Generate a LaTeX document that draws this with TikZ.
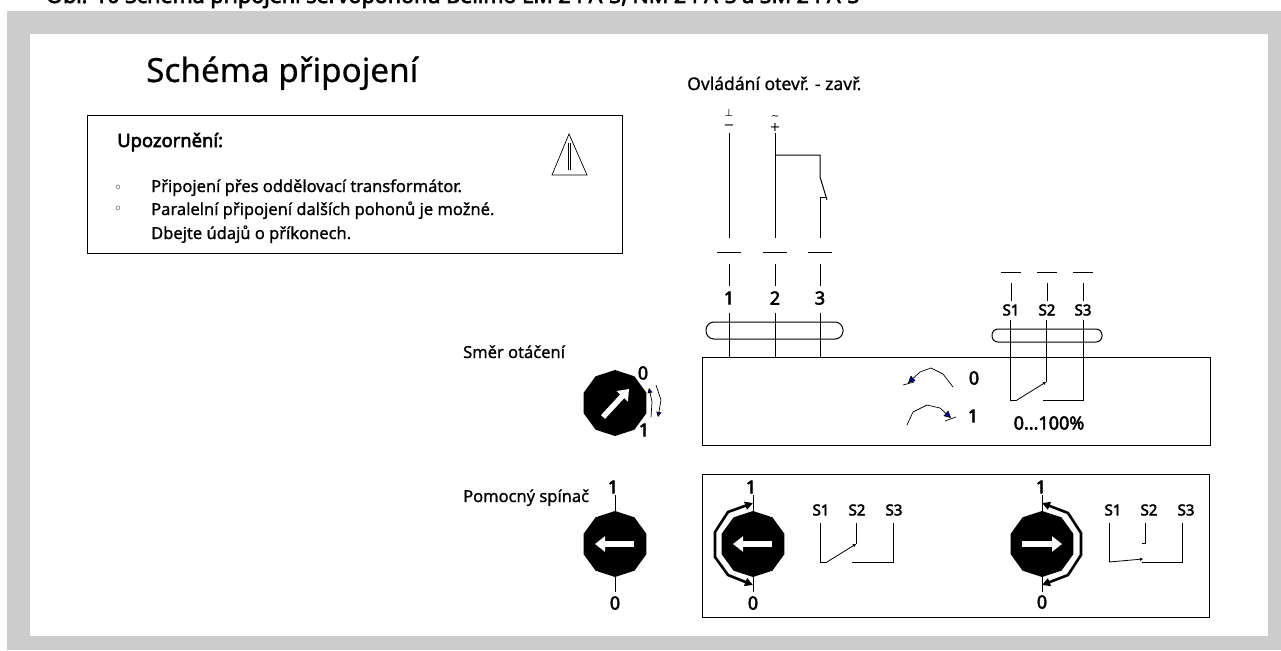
\documentclass[tikz,border=0pt]{standalone}
\usepackage{fontspec}
\setmainfont{Noto Sans}[FakeBold=0.9]
\newfontfamily\titlefont{Noto Sans}[FakeBold=0.5]
\newfontfamily\heavyfont{Noto Sans}[FakeBold=3]
\newfontfamily\symfont{DejaVu Sans}
\usepackage{tikz}
\usetikzlibrary{shapes,arrows.meta,positioning}
\tikzset{
    txt/.style={inner sep=0pt,font=\fontsize{16.5}{20}\selectfont,text=black},
    num/.style={inner sep=0pt,font=\heavyfont\fontsize{18}{20}\selectfont},
    snum/.style={inner sep=0pt,font=\heavyfont\fontsize{15}{18}\selectfont},
    sym/.style={inner sep=0pt,font=\symfont\fontsize{10}{12}\selectfont},
    knob/.style={regular polygon,regular polygon sides=10,shape border rotate=18,minimum size=66pt,inner sep=0pt,fill=black},
    wire/.style={line width=1pt,black},
    whitearrow/.style={line width=5.5pt,white,-{Triangle[length=10pt,width=15pt]}},
    turnarrow/.style={line width=2.6pt,black,{Triangle[length=8pt,width=8pt]}-{Triangle[length=8pt,width=8pt]}},
    minitip/.style={line width=0.7pt,-{Triangle[length=7pt,width=7pt,fill=blue!70!black]}},
    smalltip/.style={line width=0.7pt,-{Triangle[length=5pt,width=5pt,fill=blue!70!black]}},
    contact/.style={line width=0.8pt,-{Triangle[length=3pt,width=3pt]}}
}
\begin{document}
\begin{tikzpicture}[x=1pt,y=-1pt]
    \useasboundingbox (0,0) rectangle (1281,650);
    % Frame
    \fill[black!20] (7,11) rectangle (1281,650);
    \fill[white] (30,34) rectangle (1268,636);
    % Caption
    \node[anchor=base west,inner sep=0pt,font=\heavyfont\fontsize{21.5}{24}\selectfont] (caption) at (46,3) {Obr. 10 Schéma připojení servopohonu Belimo LM 24 A-S, NM 24 A-S a SM 24 A-S};
    % Title
    \node[anchor=base west,inner sep=0pt,font=\titlefont\fontsize{33.3}{40}\selectfont] (title) at (146,82) {Schéma připojení};
    % Warning
    \draw[wire] (87,116) rectangle (622,253);
    \node[anchor=base west,inner sep=0pt,font=\heavyfont\fontsize{18.4}{20}\selectfont] (warn) at (117,147) {Upozornění:};
    \node[sym,anchor=base,font=\symfont\fontsize{14}{14}\selectfont] (dotA) at (118,192) {◦};
    \node[sym,anchor=base,font=\symfont\fontsize{14}{14}\selectfont] (dotB) at (118,213) {◦};
    \node[txt,anchor=base west] (lineA) at (151,192) {Připojení přes oddělovací transformátor.};
    \node[txt,anchor=base west] (lineB) at (151,215) {Paralelní připojení dalších pohonů je možné.};
    \node[txt,anchor=base west] (lineC) at (151,239) {Dbejte údajů o příkonech.};
    \draw[wire,line width=0.7pt] (569,134) -- (552,175) -- (587,175) -- cycle;
    \draw[wire,line width=0.7pt] (568,143) -- (568,170) (570,143) -- (570,170);
    % Control wiring
    \node[txt,anchor=base west,font=\fontsize{17.5}{20}\selectfont] (control) at (687,90) {Ovládání otevř. - zavř.};
    \foreach \name/\xa/\lab in {tA/729/1,tB/775/2,tC/820/3}{
        \node[num] (\name) at (\xa,298) {\lab};
        \draw[wire] (\xa-12,252) -- (\xa+12,252);
        \draw[wire,shorten <=5pt] (\name.north) -- (\xa,264);
        \draw[wire,shorten <=8pt] (\name.south) -- (\xa,357);
    }
    \node[sym] (earth) at (729,113) {⊥};
    \node[sym,font=\symfont\fontsize{13}{13}\selectfont] (minus) at (729,127) {−};
    \node[sym] (tilde) at (775,118) {\char"007E};
    \node[sym,font=\symfont\fontsize{13}{13}\selectfont] (plus) at (775,127) {+};
    \draw[wire] (minus.south) ++(0,3) -- (729,238);
    \draw[wire] (plus.south) ++(0,2) -- (775,238);
    \draw[wire] (775,155) -- (820,155) -- (820,177) -- (827,200);
    \draw[wire] (826,197) -- (820,197) -- (820,238);
    % Actuator
    \draw[wire] (702,357) rectangle (1210,445);
    \draw[wire,rounded corners=8pt] (706,322) rectangle (843,339);
    \draw[wire,rounded corners=6pt] (992,329) rectangle (1102,342);
    \foreach \name/\xa/\lab in {sA/1011/S1,sB/1047/S2,sC/1083/S3}{
        \node[snum] (\name) at (\xa,310) {\lab};
        \draw[wire] (\xa-10,272) -- (\xa+10,272);
        \draw[wire,shorten <=3pt] (\name.north) -- (\xa,283);
    }
    \draw[wire] (1010,320) -- (1010,400) -- (1017,400);
    \draw[contact] (1017,400) -- (1046,382);
    \draw[wire] (1046,382) -- (1046,320);
    \draw[wire] (1083,320) -- (1083,400) -- (1043,400);
    \draw[minitip] (953,387) -- (943,374) -- (931,368) -- (920,372) -- (908,383);
    \draw[minitip] (907,425) -- (913,412) -- (927,405) -- (940,408) -- (951,418);
    \draw[wire,line width=0.7pt] (903,385) -- (914,382);
    \draw[wire,line width=0.7pt] (945,421) -- (956,417);
    \node[num] (zeroA) at (974,378) {0};
    \node[num] (oneA) at (973,416) {1};
    \node[num] (range) at (1049,423) {0...100\%};
    % Direction of rotation
    \node[txt,anchor=base west] (dirtext) at (463,358) {Směr otáčení};
    \node[knob] (knobA) at (615,403) {};
    \draw[whitearrow] (603,417) -- (629,389);
    \node[num] (zeroB) at (643,373) {0};
    \node[num] (oneB) at (644,430) {1};
    \draw[smalltip] (651,417) -- (652,402) -- (649,388);
    \draw[smalltip] (656,385) -- (661,400) -- (658,417);
    % Auxiliary switch
    \node[txt,anchor=base west] (auxtext) at (463,502) {Pomocný spínač};
    \node[knob] (knobB) at (615,544) {};
    \draw[whitearrow] (634,544) -- (595,544);
    \node[num] (oneC) at (613,487) {1};
    \node[num] (zeroC) at (615,603) {0};
    \draw[wire] (615,495) -- (knobB.north);
    \draw[wire] (knobB.south) -- (615,592);
    \draw[wire] (702,474) rectangle (1209,617);
    \node[knob] (knobC) at (753,544) {};
    \draw[whitearrow] (772,544) -- (733,544);
    \node[num] (oneD) at (751,487) {1};
    \node[num] (zeroD) at (753,603) {0};
    \draw[wire] (753,495) -- (knobC.north);
    \draw[wire] (knobC.south) -- (753,592);
    \draw[turnarrow] (753,503) -- (728,512) -- (715,532) -- (715,557) -- (728,575) -- (753,585);
    \node[knob] (knobD) at (1042,544) {};
    \draw[whitearrow] (1022,544) -- (1062,544);
    \node[num] (oneE) at (1041,487) {1};
    \node[num] (zeroE) at (1042,602) {0};
    \draw[wire] (1042,495) -- (knobD.north);
    \draw[wire] (knobD.south) -- (1042,592);
    \draw[turnarrow] (1042,503) -- (1068,513) -- (1081,533) -- (1081,555) -- (1068,575) -- (1042,585);
    \foreach \name/\xa/\lab in {uA/821/S1,uB/857/S2,uC/894/S3,vA/1113/S1,vB/1149/S2,vC/1186/S3}{
        \node[snum] (\name) at (\xa,510) {\lab};
    }
    \draw[wire] (820,523) -- (820,562) -- (827,562);
    \draw[contact] (827,562) -- (856,544);
    \draw[wire] (856,544) -- (856,523);
    \draw[wire] (893,523) -- (893,562) -- (852,562);
    \draw[contact] (1109,562) -- (1143,559);
    \draw[wire] (1109,523) -- (1109,562);
    \draw[wire] (1145,523) -- (1145,543) -- (1142,543);
    \draw[wire] (1182,523) -- (1182,562) -- (1142,562);
\end{tikzpicture}
\end{document}
